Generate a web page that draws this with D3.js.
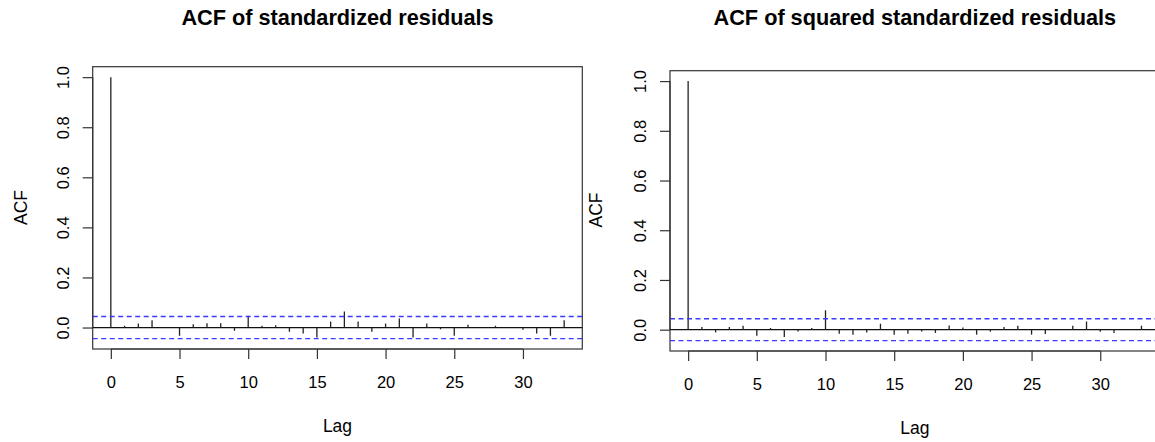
<!DOCTYPE html>
<html><head><meta charset="utf-8">
<script src="https://cdn.jsdelivr.net/npm/d3@7"></script>
<style>body{margin:0;background:#fff}svg{display:block}text{font-family:"Liberation Sans",Arial,sans-serif;fill:#000}</style>
</head><body>
<svg id="c" width="1155" height="442"></svg>
<script>
const lags = d3.range(0, 34);
const acfResid = [1.0, 0.007, 0.016, 0.029, 0.001, -0.033, 0.013, 0.017, 0.017, -0.013, 0.047, 0.007, 0.009, -0.017, -0.024, -0.040, 0.024, 0.064, 0.024, -0.017, 0.016, 0.036, -0.040, 0.016, -0.007, -0.033, 0.011, 0.000, 0.007, 0.000, -0.009, -0.024, -0.033, 0.029];
const acfSq = [1.0, 0.011, -0.011, 0.011, 0.016, -0.024, 0.007, -0.029, -0.007, 0.007, 0.078, -0.016, -0.020, -0.011, 0.024, -0.020, -0.016, -0.007, -0.013, 0.017, 0.009, -0.020, -0.008, 0.011, 0.016, -0.020, -0.017, 0.000, 0.016, 0.033, -0.008, -0.013, 0.002, 0.016];
const confBound = 0.044;
const xTicks = [0, 5, 10, 15, 20, 25, 30];
const yTicks = [0.0, 0.2, 0.4, 0.6, 0.8, 1.0];
const titles = ["ACF of standardized residuals", "ACF of squared standardized residuals"];

const svg = d3.select("#c");
const panels = [
  {values: acfResid, title: titles[0], x0: 92.7, x1: 582.3, yTop: 66.7, yBot: 349, ylabBase: 26.7, ylabY: 207.5, tickBase: 68.5},
  {values: acfSq, title: titles[1], x0: 670, x1: 1159.6, yTop: 70.7, yBot: 351, ylabBase: 601.7, ylabY: 210, tickBase: 645.5}
];

panels.forEach(p => {
  const ymin = Math.min(-confBound, d3.min(p.values)), ymax = 1.0;
  const ext = (ymax - ymin) * 0.04;
  const x = d3.scaleLinear().domain([-1.32, 34.32]).range([p.x0, p.x1]);
  const y = d3.scaleLinear().domain([ymin - ext, ymax + ext]).range([p.yBot, p.yTop]);
  const g = svg.append("g");

  g.append("rect").attr("x", p.x0).attr("y", p.yTop).attr("width", p.x1 - p.x0).attr("height", p.yBot - p.yTop)
    .attr("fill", "none").attr("stroke", "#333").attr("stroke-width", 1.2);

  g.append("line").attr("x1", p.x0).attr("x2", p.x1).attr("y1", y(0)).attr("y2", y(0))
    .attr("stroke", "#111").attr("stroke-width", 1.2);

  g.selectAll("line.bar").data(lags).enter().append("line").attr("class", "bar")
    .attr("x1", d => x(d)).attr("x2", d => x(d))
    .attr("y1", y(0)).attr("y2", d => y(p.values[d]))
    .attr("stroke", "#222").attr("stroke-width", 1.3);

  [confBound, -confBound].forEach(c => {
    g.append("line").attr("x1", p.x0).attr("x2", p.x1).attr("y1", y(c)).attr("y2", y(c))
      .attr("stroke", "#3a3aff").attr("stroke-width", 1.3).attr("stroke-dasharray", "5,3.5");
  });

  const xa = g.append("g").attr("transform", `translate(0,${p.yBot})`)
    .call(d3.axisBottom(x).tickValues(xTicks).tickSize(10).tickPadding(17.5).tickFormat(d3.format("d")));
  xa.select(".domain").attr("d", `M${x(0)},0H${x(30)}`).attr("stroke", "#333").attr("stroke-width", 1.2);
  xa.selectAll(".tick line").attr("stroke", "#333").attr("stroke-width", 1.2);
  xa.selectAll(".tick text").attr("font-size", 16.5).attr("fill", "#222").attr("font-family", "Liberation Sans, Arial, sans-serif");

  const ya = g.append("g").attr("transform", `translate(${p.x0},0)`)
    .call(d3.axisLeft(y).tickValues(yTicks).tickSize(10).tickFormat(d3.format(".1f")));
  ya.select(".domain").attr("d", `M0,${y(0)}V${y(1)}`).attr("stroke", "#333").attr("stroke-width", 1.2);
  ya.selectAll(".tick line").attr("stroke", "#333").attr("stroke-width", 1.2);
  ya.selectAll(".tick text").attr("font-size", 16.5).attr("fill", "#222")
    .attr("font-family", "Liberation Sans, Arial, sans-serif")
    .attr("x", null).attr("dy", null)
    .attr("text-anchor", "middle")
    .attr("transform", `translate(${p.tickBase - p.x0},0) rotate(-90)`);

  g.append("text").attr("x", (p.x0 + p.x1) / 2).attr("y", p.yBot + 83).attr("text-anchor", "middle")
    .attr("font-size", 17.5).attr("fill", "#222").text("Lag");
  g.append("text").attr("transform", `translate(${p.ylabBase},${p.ylabY}) rotate(-90)`)
    .attr("text-anchor", "middle").attr("font-size", 17.5).attr("fill", "#222").text("ACF");
  g.append("text").attr("x", (p.x0 + p.x1) / 2).attr("y", 25).attr("text-anchor", "middle")
    .attr("font-size", 21.7).attr("font-weight", "bold").text(p.title);
});
</script>
</body></html>
